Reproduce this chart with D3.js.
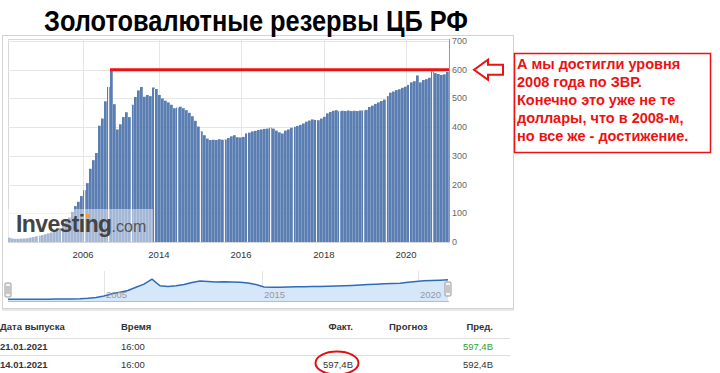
<!DOCTYPE html>
<html><head><meta charset="utf-8">
<script src="https://cdn.jsdelivr.net/npm/d3@7"></script>
<style>
body{margin:0;background:#fff;}
svg{display:block;font-family:"Liberation Sans",Arial,sans-serif;}
</style>
</head><body>
<svg id="c" width="720" height="373"></svg>
<script>
// ---------- DATA ----------
const reserves = [15,12,11,11,12,12,13,15,17,20,22,24,27,30,33,36,40,48,60,72,85,105,125,140,160,180,205,255,285,310,
405,430,490,540,598,480,392,410,435,452,435,478,505,528,540,506,512,508,538,533,512,500,492,486,478,466,468,471,466,459,
450,438,422,402,385,372,360,355,356,355,358,356,357,362,368,372,365,364,366,378,381,385,387,390,392,394,395,398,395,388,
382,378,388,392,398,401,404,408,413,419,423,427,425,424,430,436,448,453,457,459,455,457,456,458,456,457,456,458,458,460,
470,475,481,486,491,496,508,520,524,529,532,537,541,547,556,560,580,556,564,567,572,594,588,585,582,584,592];
const yTicks = [0,100,200,300,400,500,600,700];
const xTickLabels = ["2006","2014","2016","2018","2020"];
const xTickIdx = [25,50.3,77.7,105.3,132.7];
const peakIdx = 34;
const refLevel = 600;

const navValues = [10,11,12,13,14,16,18,20,23,27,40,65,110,170,215,265,360,450,595,400,385,405,440,500,540,525,515,520,510,505,
480,440,370,362,363,368,372,376,380,384,390,398,406,414,424,438,450,458,468,478,505,528,548,558,565,575];
const navTickLabels = ["2005","2015","2020"];
const navTickIdx = [12,31.75,51.25];

const title = "Золотовалютные резервы ЦБ РФ";
const noteLines = ["А мы достигли уровня","2008 года по ЗВР.","Конечно это уже не те","доллары, что в 2008-м,","но все же - достижение."];

const tableHeader = ["Дата выпуска","Время","Факт.","Прогноз","Пред."];
const tableRows = [
  ["21.01.2021","16:00","","","597,4B"],
  ["14.01.2021","16:00","597,4B","","592,4B"]
];

// ---------- LAYOUT ----------
const svg = d3.select("#c");
const P = {l:8, r:449, t:39, b:242};

// container
svg.append("rect").attr("x",2.5).attr("y",35.5).attr("width",511).attr("height",273)
  .attr("fill","#fff").attr("stroke","#d2d2d2");
svg.append("line").attr("x1",2).attr("x2",514).attr("y1",310).attr("y2",310).attr("stroke","#e8e8e8").attr("stroke-width",2);

// title
svg.append("text").attr("x",44).attr("y",31).attr("textLength",424).attr("lengthAdjust","spacingAndGlyphs")
  .attr("font-size",29).attr("font-weight","bold").attr("fill","#000").text(title);

const x = d3.scaleLinear().domain([0, reserves.length]).range([P.l, P.r]);
const y = d3.scaleLinear().domain([0,700]).range([P.b, 41]);

// plot frame + grid
svg.append("rect").attr("x",P.l+0.5).attr("y",P.t+0.5).attr("width",P.r-P.l).attr("height",P.b-P.t)
  .attr("fill","#fff").attr("stroke","#d8d8d8");
svg.append("g").selectAll("line").data(yTicks.filter(d=>d>0)).join("line")
  .attr("x1",P.l).attr("x2",P.r).attr("y1",d=>Math.round(y(d))+0.5).attr("y2",d=>Math.round(y(d))+0.5)
  .attr("stroke","#e6e6e6");
svg.append("g").selectAll("line").data(xTickIdx).join("line")
  .attr("x1",d=>Math.round(x(d))+0.5).attr("x2",d=>Math.round(x(d))+0.5).attr("y1",P.t).attr("y2",P.b)
  .attr("stroke","#e6e6e6");

// bars
const step = x(1)-x(0);
svg.append("g").selectAll("rect").data(reserves).join("rect")
  .attr("x",(d,i)=>x(i)).attr("width",step-0.25)
  .attr("y",d=>y(d)).attr("height",d=>y(0)-y(d))
  .attr("fill","#5a7eb2");

// white separators inside bars
svg.append("g").selectAll("line").data(d3.range(10, reserves.length, 7.73)).join("line")
  .attr("x1",d=>Math.round(x(d))+0.5).attr("x2",d=>Math.round(x(d))+0.5)
  .attr("y1",d=>y(reserves[Math.min(reserves.length-1,Math.round(d))])).attr("y2",P.b)
  .attr("stroke","#fff").attr("stroke-opacity",0.9);

// watermark
svg.append("rect").attr("x",P.l).attr("y",209).attr("width",145).attr("height",P.b-209)
  .attr("fill","#fff").attr("fill-opacity",0.45);
const wm = svg.append("text").attr("x",16).attr("y",232).attr("font-family","Liberation Sans, Arial, sans-serif");
wm.append("tspan").attr("font-size",23).attr("font-weight","bold").attr("fill","#444").attr("letter-spacing",-0.6).text("Investing");
wm.append("tspan").attr("font-size",16).attr("fill","#555").text(".com");
svg.append("rect").attr("x",86).attr("y",214).attr("width",4).attr("height",4).attr("fill","#f0a030");

// y axis
svg.append("line").attr("x1",P.r+0.5).attr("x2",P.r+0.5).attr("y1",P.t).attr("y2",P.b).attr("stroke","#999");
svg.append("g").selectAll("text").data(yTicks).join("text")
  .attr("x",452).attr("y",d=>y(d)+3).attr("font-size",9).attr("fill","#666").text(d=>d);

// x labels
svg.append("g").selectAll("text").data(xTickLabels).join("text")
  .attr("x",(d,i)=>x(xTickIdx[i])).attr("y",258).attr("text-anchor","middle")
  .attr("font-size",9.5).attr("fill","#333").text(d=>d);

// red reference line
svg.append("line").attr("x1",x(peakIdx)).attr("x2",P.r).attr("y1",y(refLevel)).attr("y2",y(refLevel))
  .attr("stroke","#ee1111").attr("stroke-width",3);

// arrow
const ay = y(refLevel);
svg.append("path")
  .attr("d",`M474,${ay} L488,${ay-10} L488,${ay-5} L503,${ay-5} L503,${ay+5} L488,${ay+5} L488,${ay+10} Z`)
  .attr("fill","#fff").attr("stroke","#ee1111").attr("stroke-width",2).attr("stroke-linejoin","miter");

// note box
svg.append("rect").attr("x",514.5).attr("y",53.5).attr("width",196).attr("height",99)
  .attr("fill","#fff").attr("stroke","#ee1111").attr("stroke-width",1.5);
svg.append("g").selectAll("text").data(noteLines).join("text")
  .attr("x",517).attr("y",(d,i)=>69+i*18).attr("font-size",14.5).attr("font-weight","bold")
  .attr("fill","#ee1111").text(d=>d);

// navigator
const xn = d3.scaleLinear().domain([0,navValues.length-1]).range([P.l, 448]);
const yn = d3.scaleLinear().domain([0,700]).range([299.7,275.5]);
svg.append("g").selectAll("line").data(navTickIdx).join("line")
  .attr("x1",d=>Math.round(xn(d))+0.5).attr("x2",d=>Math.round(xn(d))+0.5).attr("y1",271).attr("y2",301)
  .attr("stroke","#e4e4e4");
svg.append("path").datum(navValues)
  .attr("d",d3.area().x((d,i)=>xn(i)).y0(301).y1(d=>yn(d)))
  .attr("fill","#d6e7fa");
svg.append("path").datum(navValues)
  .attr("d",d3.line().x((d,i)=>xn(i)).y(d=>yn(d)))
  .attr("fill","none").attr("stroke","#2f6cb8").attr("stroke-width",1.5);
svg.append("line").attr("x1",P.l).attr("x2",449).attr("y1",301.5).attr("y2",301.5).attr("stroke","#bbb");
svg.append("g").selectAll("text").data(navTickLabels).join("text")
  .attr("x",(d,i)=>xn(navTickIdx[i])+2).attr("y",298).attr("font-size",9.5).attr("fill","#999").text(d=>d);
[P.l, 448].forEach((hx,k)=>{
  const g = svg.append("g");
  g.append("rect").attr("x",hx-3).attr("y",283-k).attr("width",6).attr("height",14).attr("rx",1)
    .attr("fill","#f4f4f4").attr("stroke","#999");
  g.append("line").attr("x1",hx-1).attr("x2",hx-1).attr("y1",286-k).attr("y2",294-k).attr("stroke","#999");
  g.append("line").attr("x1",hx+1).attr("x2",hx+1).attr("y1",286-k).attr("y2",294-k).attr("stroke","#999");
});

// table
const cols = [{x:0,a:"start"},{x:121,a:"start"},{x:353,a:"end"},{x:389,a:"start"},{x:493,a:"end"}];
const tg = svg.append("g").attr("font-size",9.5);
tg.selectAll("text.h").data(tableHeader).join("text").attr("class","h")
  .attr("x",(d,i)=>cols[i].x).attr("y",330).attr("text-anchor",(d,i)=>cols[i].a)
  .attr("font-weight","bold").attr("fill","#333").text(d=>d);
[338.5,355.5].forEach(ly=>tg.append("line").attr("x1",0).attr("x2",510).attr("y1",ly).attr("y2",ly).attr("stroke","#ddd"));
tableRows.forEach((row,r)=>{
  tg.selectAll("text.r"+r).data(row).join("text").attr("class","r"+r)
    .attr("x",(d,i)=>cols[i].x).attr("y",350+r*17.5).attr("text-anchor",(d,i)=>cols[i].a)
    .attr("font-weight",(d,i)=>i===0?"bold":"normal")
    .attr("fill",(d,i)=>(r===0&&i===4)?"#2ea12e":"#333").text(d=>d);
});
// circle around the actual value
svg.append("ellipse").attr("cx",337).attr("cy",363).attr("rx",21.5).attr("ry",11.5)
  .attr("fill","none").attr("stroke","#e01010").attr("stroke-width",2);
</script>
</body></html>
